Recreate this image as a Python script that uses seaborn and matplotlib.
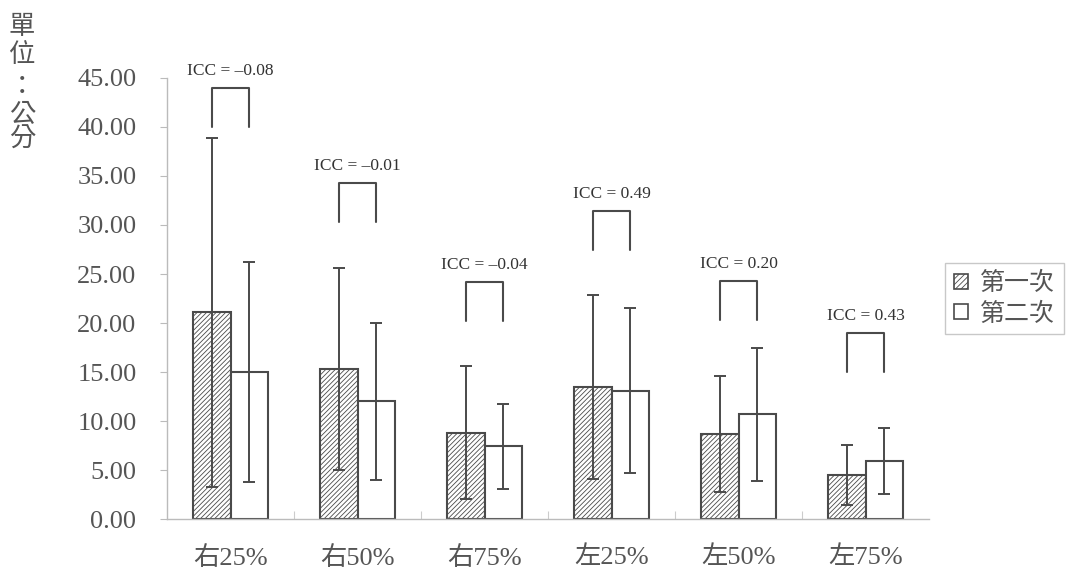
import pandas as pd
import matplotlib.pyplot as plt
import seaborn as sns
from matplotlib.patches import Patch

# values (mean and SD per condition, unit: cm)
categories = ['右25%', '右50%', '右75%', '左25%', '左50%', '左75%']
series = ['第一次', '第二次']
first_mean = [21.1, 15.3, 8.8, 13.5, 8.7, 4.5]
first_sd = [17.8, 10.3, 6.8, 9.4, 5.9, 3.05]
second_mean = [15.0, 12.0, 7.4, 13.1, 10.7, 5.9]
second_sd = [11.2, 8.0, 4.3, 8.4, 6.8, 3.35]
icc_labels = ['–0.08', '–0.01', '–0.04', '0.49', '0.20', '0.43']
bracket_base = [40.0, 30.3, 20.2, 27.4, 20.3, 15.0]
bracket_height = 4.0
yticks = [0, 5, 10, 15, 20, 25, 30, 35, 40, 45]
unit_label = ['單', '位', '：', '公', '分']

sns.set_style('white')
plt.rcParams['font.family'] = ['Liberation Serif', 'Noto Sans CJK TC', 'DejaVu Sans']
plt.rcParams['hatch.linewidth'] = 0.6

text_col = '#555555'
edge_col = '#4a4a4a'

df = pd.DataFrame({
    'cat': categories * 2,
    'series': [series[0]] * 6 + [series[1]] * 6,
    'value': first_mean + second_mean,
})

fig = plt.figure(figsize=(10.74, 5.73), dpi=100)
ax = fig.add_axes([0.1555, 0.0942, 0.7095, 0.7697])

sns.barplot(data=df, x='cat', y='value', hue='series', order=categories,
            hue_order=series, errorbar=None, width=0.59, ax=ax,
            palette=['white', 'white'], edgecolor=edge_col, linewidth=1.5,
            legend=False)

sds = [first_sd, second_sd]
centers = []
bar_conts = list(ax.containers)
for i, cont in enumerate(bar_conts):
    xs = [p.get_x() + p.get_width() / 2 for p in cont.patches]
    ys = [p.get_height() for p in cont.patches]
    centers.append(xs)
    if i == 0:
        for p in cont.patches:
            p.set_hatch('///////')
    ax.errorbar(xs, ys, yerr=sds[i], fmt='none', ecolor=edge_col,
                elinewidth=1.4, capsize=4, capthick=1.4, zorder=3)

# ICC brackets
for j in range(len(categories)):
    x1, x2 = centers[0][j], centers[1][j]
    b = bracket_base[j]
    t = b + bracket_height
    ax.plot([x1, x1, x2, x2], [b, t, t, b], color=edge_col, lw=1.5,
            clip_on=False)
    ax.text((x1 + x2) / 2, t + 0.9, 'ICC = ' + icc_labels[j], ha='center',
            va='bottom', fontsize=12.5, color='#333333')

ax.set_xlim(-0.5, 5.5)
ax.set_ylim(0, 45)
ax.set_yticks(yticks)
ax.set_yticklabels([f'{v:.2f}' for v in yticks])
ax.set_xlabel('')
ax.set_ylabel('')
ax.set_xticks(range(len(categories)))
ax.set_xticklabels(categories)
ax.tick_params(axis='y', left=True, length=5, width=0.8, color='#bbbbbb',
               labelsize=19, labelcolor=text_col, pad=17)
ax.tick_params(axis='x', bottom=False, labelsize=19, labelcolor=text_col,
               pad=16)
ax.set_xticks([k + 0.5 for k in range(5)], minor=True)
ax.tick_params(axis='x', which='minor', bottom=True, direction='in',
               length=6, width=0.8, color='#cccccc')
for s in ['top', 'right']:
    ax.spines[s].set_visible(False)
for s in ['left', 'bottom']:
    ax.spines[s].set_color('#bbbbbb')
    ax.spines[s].set_linewidth(1.0)

handles = [Patch(facecolor='white', edgecolor=edge_col, hatch='//////', lw=1.2),
           Patch(facecolor='white', edgecolor=edge_col, lw=1.2)]
leg = fig.legend(handles, series, loc='upper left',
                 bbox_to_anchor=(0.88, 0.541), borderaxespad=0,
                 fontsize=18, fancybox=False,
                 handlelength=0.55, handleheight=0.55, handletextpad=0.5,
                 borderpad=0.35, labelspacing=0.3, edgecolor='#bbbbbb')
for t in leg.get_texts():
    t.set_color(text_col)

# vertical unit label, one character per line
unit_y = [26, 55, 86, 114, 139]
for ch, yp in zip(unit_label, unit_y):
    fig.text(0.0205, 1 - yp / 573, ch, ha='center', va='center',
             fontsize=19, color=text_col, family=['Noto Sans CJK TC'])

fig.savefig('out.png', dpi=100, facecolor='white')
